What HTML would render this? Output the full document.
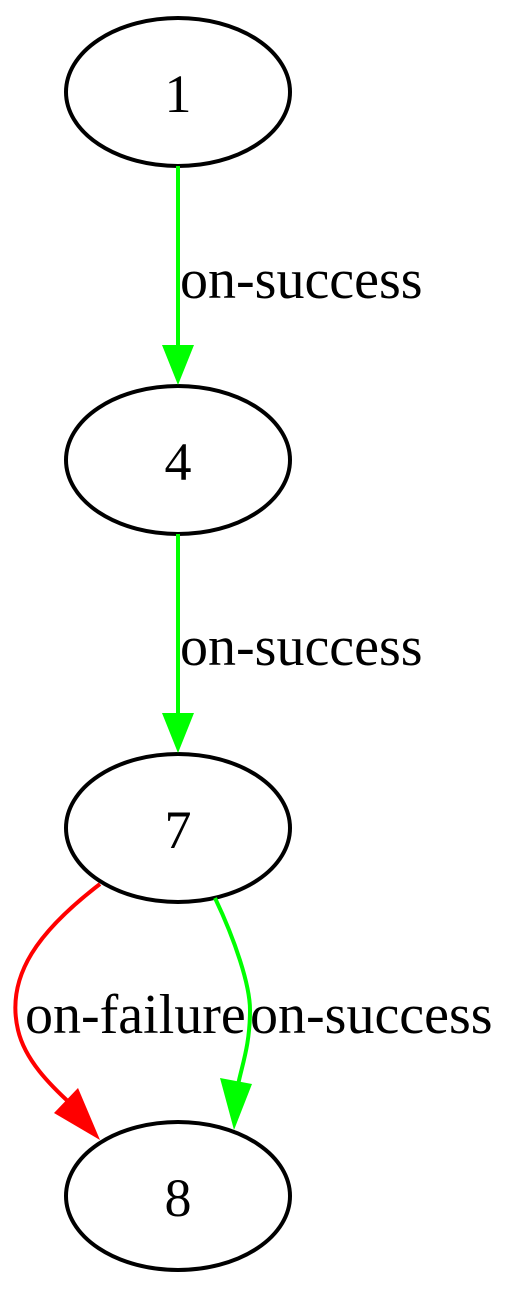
<!DOCTYPE html>
<html><head><meta charset="utf-8"><style>html,body{margin:0;padding:0;background:#fff}svg{display:block}text{font-family:"Liberation Serif",serif;font-size:56px;fill:#000}</style></head>
<body>
<svg width="510" height="1290" viewBox="0 0 510 1290">
<g fill="none" stroke="#000" stroke-width="4">
<ellipse cx="178" cy="92" rx="112" ry="74"/>
<ellipse cx="178" cy="460" rx="112" ry="74"/>
<ellipse cx="178" cy="828" rx="112" ry="74"/>
<ellipse cx="178" cy="1196" rx="112" ry="74"/>
</g>
<text x="178" y="112" text-anchor="middle" style="font-size:54px">1</text>
<text x="178" y="480" text-anchor="middle" style="font-size:54px">4</text>
<text x="178" y="848" text-anchor="middle" style="font-size:54px">7</text>
<text x="178" y="1216" text-anchor="middle" style="font-size:54px">8</text>
<g>
<line x1="178" y1="166" x2="178" y2="350" stroke="#0f0" stroke-width="4"/>
<polygon points="162,345 194,345 178,385" fill="#0f0"/>
</g>
<g>
<line x1="178" y1="534" x2="178" y2="718" stroke="#0f0" stroke-width="4"/>
<polygon points="162,713 194,713 178,753" fill="#0f0"/>
</g>
<g>
<path d="M100,884 C40,930 5,975 18,1030 C25,1060 50,1085 72,1105" fill="none" stroke="#f00" stroke-width="4"/>
<polygon points="54,1113 78,1088 100,1140" fill="#f00"/>
</g>
<g>
<path d="M215,898 C235,940 250,985 250,1010 C250,1045 242,1065 238,1085" fill="none" stroke="#0f0" stroke-width="4"/>
<polygon points="220,1078 252,1084 234,1130" fill="#0f0"/>
</g>
<text x="180" y="298">on-success</text>
<text x="180" y="665">on-success</text>
<text x="25" y="1033">on-failure</text>
<text x="250" y="1033">on-success</text>
</svg>
</body></html>
